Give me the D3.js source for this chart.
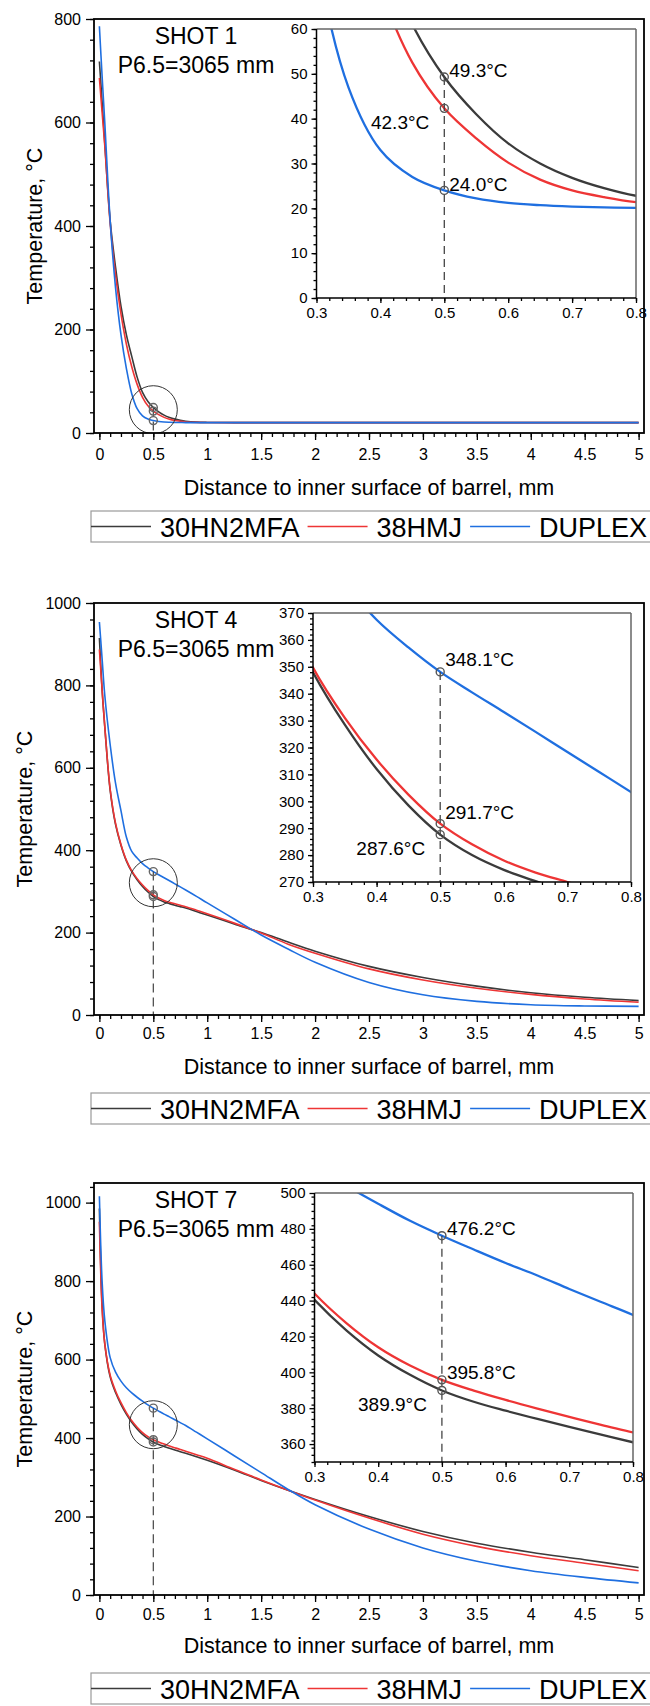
<!DOCTYPE html>
<html>
<head>
<meta charset="utf-8">
<script src="https://cdn.jsdelivr.net/npm/d3@7"></script>
<style>
  body { margin: 0; background: #fff; }
  text { font-family: "Liberation Sans", Arial, sans-serif; fill: #000; }
</style>
</head>
<body>
<svg id="chart" width="650" height="1706"></svg>
<script>
// distance to inner surface of barrel, mm (shared sampling for all curves)
const distX = [0, 0.025, 0.05, 0.1, 0.15, 0.2, 0.25, 0.3, 0.35, 0.4, 0.45, 0.5, 0.55, 0.6, 0.65, 0.7, 0.75, 0.8, 0.9, 1.0, 1.25, 1.5, 1.75, 2, 2.5, 3, 3.5, 4, 4.5, 5];

const seriesNames = ['30HN2MFA', '38HMJ', 'DUPLEX'];
const shotNames = ['SHOT 1', 'SHOT 4', 'SHOT 7'];
const positionNote = 'P6.5=3065 mm';

// temperature, °C
const shot1_30HN2MFA = [718, 640, 560, 410, 320, 245, 190, 148, 108, 78.5, 61, 49.3, 41, 34.5, 30, 26.8, 24.5, 22.8, 21, 20.4, 20.1, 20, 20, 20, 20, 20, 20, 20, 20, 20];
const shot1_38HMJ    = [686, 620, 555, 405, 305, 230, 172, 128, 94, 69, 52.5, 42.3, 35.6, 30.2, 26.4, 24, 22.5, 21.4, 20.5, 20.2, 20, 20, 20, 20, 20, 20, 20, 20, 20, 20];
const shot1_DUPLEX   = [786, 690, 600, 410, 280, 190, 125, 76, 47, 33, 27, 24, 22.2, 21.2, 20.7, 20.4, 20.2, 20.1, 20, 20, 20, 20, 20, 20, 20, 20, 20, 20, 20, 20];

const shot4_30HN2MFA = [915, 790, 700, 545, 462, 412, 374, 348, 328.5, 312, 298.5, 287.6, 280, 274.5, 270.3, 266.5, 263, 259.5, 251, 242.5, 221, 200, 177, 155, 118, 91, 70, 54, 43, 35];
const shot4_38HMJ    = [887, 790, 700, 548, 465, 414, 376, 349.7, 331, 315.5, 302.5, 291.7, 284, 278, 273.5, 270, 266.5, 263, 254.5, 245.5, 223, 199, 172, 150, 112, 85, 65, 50, 39, 31];
const shot4_DUPLEX   = [954, 865, 776, 656, 562, 496, 432, 397, 381, 367.5, 357.2, 348.1, 340.5, 333.2, 325.8, 318.3, 310.9, 303.4, 288, 272, 233, 194, 160, 128, 79, 49, 33, 25, 22, 21];

const shot7_30HN2MFA = [985, 740, 640, 556, 516, 486, 461, 440.4, 423.4, 409.4, 398.6, 389.9, 383.6, 378.6, 374, 369.6, 365.3, 361, 352.3, 343.3, 318.5, 292, 267, 243.5, 200, 162, 132, 109, 90, 70];
const shot7_38HMJ    = [951, 730, 640, 560, 520, 490, 465, 444, 427.5, 414, 403.8, 395.8, 389.8, 384.6, 379.8, 375.2, 370.7, 366.5, 357.5, 348.5, 320.5, 293, 267, 242, 196, 155, 124, 100, 81, 62];
const shot7_DUPLEX   = [1016, 800, 700, 605, 568, 545, 528, 515, 504, 494, 484.5, 476.2, 468.5, 461, 454, 446.5, 439.2, 432, 415, 398, 355, 312, 269, 230, 168, 120, 86, 62, 45, 31];

// values marked at 0.5 mm (30HN2MFA, 38HMJ, DUPLEX)
const markX = 0.5;
const shot1Marks = [49.3, 42.3, 24.0];
const shot4Marks = [287.6, 291.7, 348.1];
const shot7Marks = [389.9, 395.8, 476.2];

// temperature at the centre of the zoom circle on each main plot
const zoomCircleT = [45, 321, 434];

// axes
const mainXDomain = [-0.05, 5.05];
const mainXTicks = [0, 0.5, 1, 1.5, 2, 2.5, 3, 3.5, 4, 4.5, 5];
const mainYDomains = [[0, 800], [0, 1000], [0, 1050]];
const mainYTicks = [[0, 200, 400, 600, 800], [0, 200, 400, 600, 800, 1000], [0, 200, 400, 600, 800, 1000]];
const insetXDomain = [0.3, 0.8];
const insetXTicks = [0.3, 0.4, 0.5, 0.6, 0.7, 0.8];
const insetYDomains = [[0, 60], [270, 370], [350, 500]];
const insetYTicks = [[0, 10, 20, 30, 40, 50, 60], [270, 280, 290, 300, 310, 320, 330, 340, 350, 360, 370], [360, 380, 400, 420, 440, 460, 480, 500]];
const insetYMinorStep = [2, 2, 4];

const xTitle = 'Distance to inner surface of barrel, mm';
const yTitle = 'Temperature, \u00B0C';

const colors = ['#3b3b3b', '#ee3535', '#1f6fe0'];

// ---- layout (pixels) ----
const frameLeft = 94, frameRight = 644;
const panelTop = [19, 603, 1183];
const panelHeight = [414, 412, 412];
const xLabelPad = [9, 6, 7];
const xTitleOff = [55, 52, 50.5];
const yTitleX = [35, 25, 25];
const insetLeft = [316.5, 313, 314.5];
const insetWidth = [319.5, 318, 318.5];
const insetTopOff = 10, insetHeight = 269;
// annotation placement for [30HN2MFA, 38HMJ, DUPLEX] labels
const labelPlace = [
  [{a: 'start', dx: 5, dy: -6}, {a: 'end', dx: -15, dy: 14}, {a: 'start', dx: 5, dy: -6}],
  [{a: 'end', dx: -15, dy: 13.5}, {a: 'start', dx: 5, dy: -11.5}, {a: 'start', dx: 5, dy: -12}],
  [{a: 'end', dx: -15, dy: 14}, {a: 'start', dx: 5, dy: -7}, {a: 'start', dx: 5, dy: -7}]
];

const allSeries = [
  [shot1_30HN2MFA, shot1_38HMJ, shot1_DUPLEX],
  [shot4_30HN2MFA, shot4_38HMJ, shot4_DUPLEX],
  [shot7_30HN2MFA, shot7_38HMJ, shot7_DUPLEX]
];
const allMarks = [shot1Marks, shot4Marks, shot7Marks];

const svg = d3.select('#chart');
svg.append('rect').attr('width', 650).attr('height', 1706).attr('fill', '#fff');

function styleAxis(sel, fontSize) {
  sel.select('.domain').remove();
  sel.selectAll('.tick line').attr('stroke', '#000').attr('stroke-width', 1.3);
  sel.selectAll('.tick text').attr('font-size', fontSize).attr('fill', '#000')
    .style('font-family', '"Liberation Sans", Arial, sans-serif');
}

function drawPanel(i) {
  const top = panelTop[i], h = panelHeight[i], bottom = top + h;
  const g = svg.append('g');

  const x = d3.scaleLinear().domain(mainXDomain).range([frameLeft, frameRight]);
  const y = d3.scaleLinear().domain(mainYDomains[i]).range([bottom, top]);

  const clipId = 'clipMain' + i;
  g.append('clipPath').attr('id', clipId).append('rect')
    .attr('x', frameLeft).attr('y', top).attr('width', frameRight - frameLeft).attr('height', h);

  // minor ticks
  g.append('g').attr('transform', `translate(0,${bottom})`)
    .call(d3.axisBottom(x).tickValues(d3.range(0, 5.001, 0.1)).tickSize(4).tickFormat(''))
    .call(s => styleAxis(s, 0));
  g.append('g').attr('transform', `translate(${frameLeft},0)`)
    .call(d3.axisLeft(y).tickValues(d3.range(mainYDomains[i][0], mainYDomains[i][1] + 0.1, 40)).tickSize(4).tickFormat(''))
    .call(s => styleAxis(s, 0));
  // major ticks
  g.append('g').attr('transform', `translate(0,${bottom})`)
    .call(d3.axisBottom(x).tickValues(mainXTicks).tickSize(7).tickPadding(xLabelPad[i]).tickFormat(d => String(d)))
    .call(s => styleAxis(s, 16));
  g.append('g').attr('transform', `translate(${frameLeft},0)`)
    .call(d3.axisLeft(y).tickValues(mainYTicks[i]).tickSize(8).tickPadding(5).tickFormat(d => String(d)))
    .call(s => styleAxis(s, 16));

  const line = d3.line().x(d => x(d[0])).y(d => y(d[1])).curve(d3.curveCatmullRom.alpha(0.5));
  const curves = g.append('g').attr('clip-path', `url(#${clipId})`);
  allSeries[i].forEach((vals, k) => {
    curves.append('path').datum(distX.map((v, j) => [v, vals[j]]))
      .attr('d', line).attr('fill', 'none').attr('stroke', colors[k]).attr('stroke-width', 1.6);
  });

  // dashed guide at 0.5 mm
  const marks = allMarks[i];
  curves.append('line')
    .attr('x1', x(markX)).attr('x2', x(markX))
    .attr('y1', y(d3.max(marks))).attr('y2', y(mainYDomains[i][0]))
    .attr('stroke', '#444').attr('stroke-width', 1.2).attr('stroke-dasharray', '9,5');
  marks.forEach(m => {
    curves.append('circle').attr('cx', x(markX)).attr('cy', y(m)).attr('r', 4)
      .attr('fill', 'none').attr('stroke', '#666').attr('stroke-width', 1.4);
  });
  curves.append('ellipse').attr('cx', x(markX)).attr('cy', y(zoomCircleT[i]))
    .attr('rx', 24).attr('ry', 24).attr('fill', 'none').attr('stroke', '#333').attr('stroke-width', 1);

  // frame
  g.append('rect').attr('x', frameLeft).attr('y', top).attr('width', frameRight - frameLeft).attr('height', h)
    .attr('fill', 'none').attr('stroke', '#000').attr('stroke-width', 1.8);

  // titles
  const cx = 196;
  g.append('text').attr('x', cx).attr('y', top + 17).attr('text-anchor', 'middle')
    .attr('dominant-baseline', 'central').attr('font-size', 23).text(shotNames[i]);
  g.append('text').attr('x', cx).attr('y', top + 45.5).attr('text-anchor', 'middle')
    .attr('dominant-baseline', 'central').attr('font-size', 23).text(positionNote);

  g.append('text').attr('transform', `translate(${yTitleX[i]},${top + h / 2}) rotate(-90)`)
    .attr('text-anchor', 'middle').attr('dominant-baseline', 'central').attr('font-size', 21.5).text(yTitle);
  g.append('text').attr('x', (frameLeft + frameRight) / 2).attr('y', bottom + xTitleOff[i])
    .attr('text-anchor', 'middle').attr('dominant-baseline', 'central').attr('font-size', 21.5).text(xTitle);

  drawInset(g, i);
  drawLegend(g, bottom + 78);
}

function drawInset(g, i) {
  const left = insetLeft[i], right = left + insetWidth[i];
  const top = panelTop[i] + insetTopOff, bottom = top + insetHeight;
  const ix = d3.scaleLinear().domain(insetXDomain).range([left, right]);
  const iy = d3.scaleLinear().domain(insetYDomains[i]).range([bottom, top]);
  const gi = g.append('g');

  gi.append('rect').attr('x', left).attr('y', top).attr('width', right - left).attr('height', bottom - top).attr('fill', '#fff');
  const clipId = 'clipInset' + i;
  gi.append('clipPath').attr('id', clipId).append('rect')
    .attr('x', left).attr('y', top).attr('width', right - left).attr('height', bottom - top);

  gi.append('g').attr('transform', `translate(0,${bottom})`)
    .call(d3.axisBottom(ix).tickValues(d3.range(0.3, 0.8001, 0.02)).tickSize(3).tickFormat(''))
    .call(s => styleAxis(s, 0));
  gi.append('g').attr('transform', `translate(${left},0)`)
    .call(d3.axisLeft(iy).tickValues(d3.range(insetYDomains[i][0], insetYDomains[i][1] + 0.01, insetYMinorStep[i])).tickSize(3).tickFormat(''))
    .call(s => styleAxis(s, 0));
  gi.append('g').attr('transform', `translate(0,${bottom})`)
    .call(d3.axisBottom(ix).tickValues(insetXTicks).tickSize(5).tickPadding(4).tickFormat(d3.format('.1f')))
    .call(s => styleAxis(s, 15));
  gi.append('g').attr('transform', `translate(${left},0)`)
    .call(d3.axisLeft(iy).tickValues(insetYTicks[i]).tickSize(5).tickPadding(4).tickFormat(d => String(d)))
    .call(s => styleAxis(s, 15));

  const line = d3.line().x(d => ix(d[0])).y(d => iy(d[1])).curve(d3.curveCatmullRom.alpha(0.5));
  const curves = gi.append('g').attr('clip-path', `url(#${clipId})`);
  allSeries[i].forEach((vals, k) => {
    curves.append('path').datum(distX.map((v, j) => [v, vals[j]]))
      .attr('d', line).attr('fill', 'none').attr('stroke', colors[k]).attr('stroke-width', 2.3);
  });

  const marks = allMarks[i];
  curves.append('line')
    .attr('x1', ix(markX)).attr('x2', ix(markX))
    .attr('y1', iy(d3.max(marks))).attr('y2', bottom)
    .attr('stroke', '#444').attr('stroke-width', 1.3).attr('stroke-dasharray', '8,5');
  marks.forEach((m, k) => {
    curves.append('circle').attr('cx', ix(markX)).attr('cy', iy(m)).attr('r', 4)
      .attr('fill', 'none').attr('stroke', '#555').attr('stroke-width', 1.4);
    const p = labelPlace[i][k];
    gi.append('text').attr('x', ix(markX) + p.dx).attr('y', iy(m) + p.dy)
      .attr('text-anchor', p.a).attr('dominant-baseline', 'central').attr('font-size', 19)
      .text(m.toFixed(1) + '\u00B0C');
  });

  // inset box: dark axes left/bottom, grey top/right
  gi.append('line').attr('x1', left).attr('x2', right).attr('y1', top).attr('y2', top).attr('stroke', '#666').attr('stroke-width', 1.5);
  gi.append('line').attr('x1', right).attr('x2', right).attr('y1', top).attr('y2', bottom).attr('stroke', '#666').attr('stroke-width', 1.5);
  gi.append('line').attr('x1', left).attr('x2', left).attr('y1', top).attr('y2', bottom).attr('stroke', '#000').attr('stroke-width', 1.5);
  gi.append('line').attr('x1', left).attr('x2', right).attr('y1', bottom).attr('y2', bottom).attr('stroke', '#000').attr('stroke-width', 1.5);
}

function drawLegend(g, top) {
  const hgt = 31, mid = top + hgt / 2;
  const lg = g.append('g');
  lg.append('rect').attr('x', 91).attr('y', top).attr('width', 600).attr('height', hgt)
    .attr('fill', 'none').attr('stroke', '#9a9a9a').attr('stroke-width', 1.2);
  let cursor = 91;
  seriesNames.forEach((name, k) => {
    lg.append('line').attr('x1', cursor).attr('x2', cursor + 60).attr('y1', mid).attr('y2', mid)
      .attr('stroke', colors[k]).attr('stroke-width', 1.6);
    const t = lg.append('text').attr('x', cursor + 69).attr('y', mid + 1)
      .attr('dominant-baseline', 'central').attr('font-size', 27).text(name);
    cursor = cursor + 69 + t.node().getComputedTextLength() + 8;
  });
}

[0, 1, 2].forEach(drawPanel);
</script>
</body>
</html>
